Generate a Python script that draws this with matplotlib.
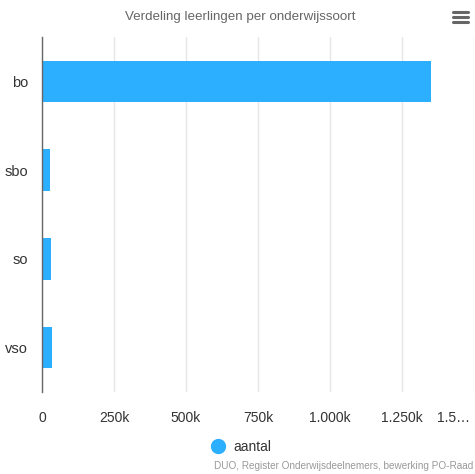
import matplotlib.pyplot as plt
import matplotlib.transforms as mtransforms
from matplotlib.lines import Line2D

# data
categories = ["bo", "sbo", "so", "vso"]
aantal = [1351000, 29000, 30000, 33000]
tick_values = [0, 250000, 500000, 750000, 1000000, 1250000, 1500000]
tick_labels = ["0", "250k", "500k", "750k", "1.000k", "1.250k", "1.5…"]

bar_color = "#2caffe"

plt.rcParams["font.family"] = ["Liberation Sans", "DejaVu Sans"]

fig = plt.figure(figsize=(4.75, 4.74), dpi=100)
ax = fig.add_axes([42 / 475, (474 - 392) / 474, (474 - 42) / 475, (392 - 37) / 474])

ypos = range(len(categories))
ax.barh(ypos, aantal, height=0.47, color=bar_color, zorder=3)
ax.set_yticks(list(ypos))
ax.set_yticklabels(categories, fontsize=10.5, color="#333333")
ax.set_ylim(len(categories) - 0.5, -0.5)

ax.set_xlim(0, 1500000)
ax.set_xticks(tick_values)
ax.set_xticklabels(tick_labels, fontsize=10, color="#333333")
ax.grid(axis="x", color="#e6e6e6", linewidth=1, zorder=0)
ax.tick_params(axis="x", length=0, pad=14)
ax.tick_params(axis="y", length=0, pad=10)

# last label is squeezed against the right edge
last = ax.get_xticklabels()[-1]
last.set_ha("right")
last.set_transform(last.get_transform() + mtransforms.ScaledTranslation(-4 / 100, 0, fig.dpi_scale_trans))

for side in ["top", "right", "bottom"]:
    ax.spines[side].set_visible(False)
ax.spines["left"].set_color("#666666")
ax.spines["left"].set_linewidth(1)
ax.spines["left"].set_zorder(4)

fig.text(0.505, 1 - 17 / 474, "Verdeling leerlingen per onderwijssoort",
         ha="center", va="center", fontsize=9.6, color="#666666")

# legend
handle = Line2D([], [], marker="o", linestyle="none", markersize=10,
                markerfacecolor=bar_color, markeredgecolor=bar_color)
fig.legend([handle], ["aantal"], loc="center", bbox_to_anchor=(0.5, 1 - 447 / 474),
           frameon=False, fontsize=10, handletextpad=0.1, labelcolor="#333333")

fig.text(1 - 2 / 475, 1 - 466 / 474, "DUO, Register Onderwijsdeelnemers, bewerking PO-Raad",
         ha="right", va="center", fontsize=7.2, color="#999999")

# menu icon
for yy in [12, 17, 22]:
    fig.add_artist(Line2D([453 / 475, 468 / 475], [1 - yy / 474, 1 - yy / 474],
                          color="#666666", linewidth=2.2, solid_capstyle="round"))

fig.savefig("out.png", dpi=100)
